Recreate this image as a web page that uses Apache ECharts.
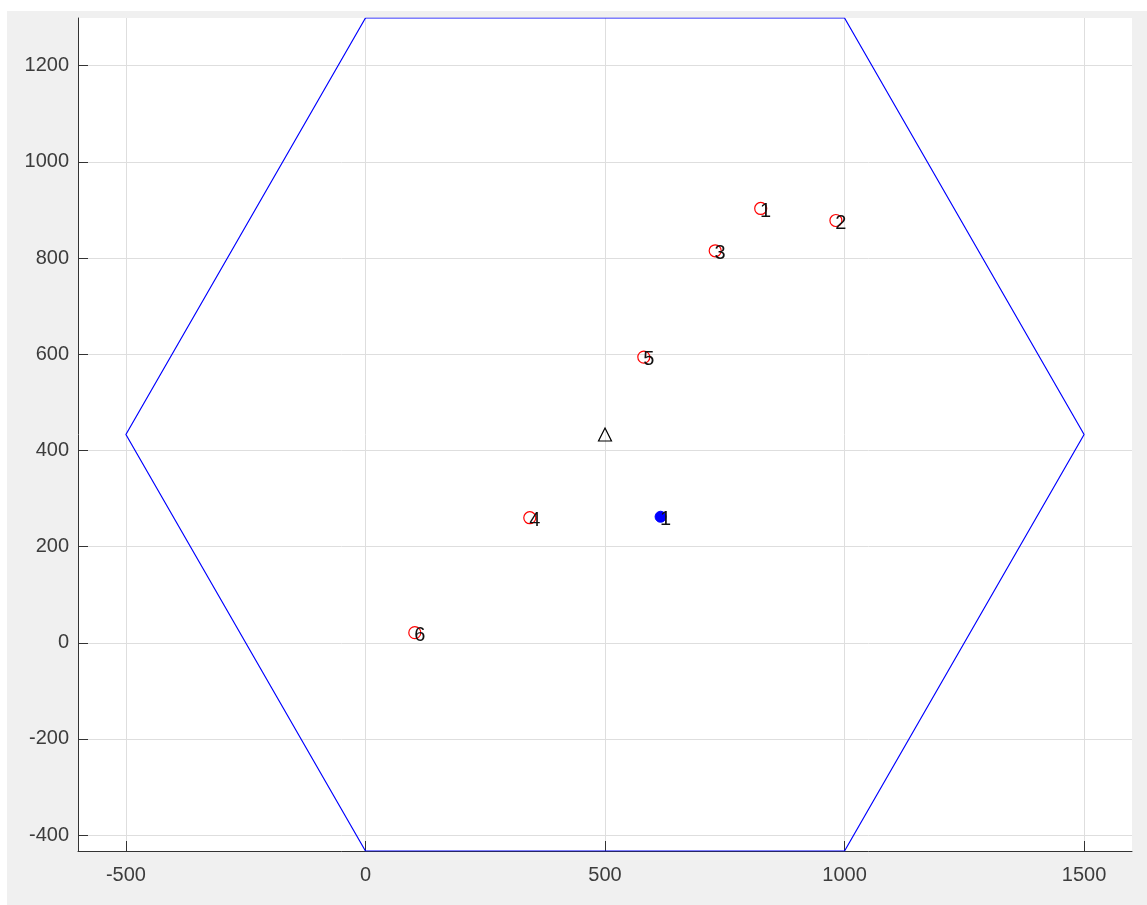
<!DOCTYPE html>
<html>
<head>
<meta charset="utf-8">
<script src="https://cdn.jsdelivr.net/npm/echarts@6/dist/echarts.min.js"></script>
<style>
  html, body { margin: 0; padding: 0; background: #ffffff; }
  #frame { position: absolute; left: 7px; top: 11px; width: 1140px; height: 894px; background: #f0f0f0; }
  #chart { position: absolute; left: 0; top: 0; width: 1147px; height: 905px; }
</style>
</head>
<body>
<div id="frame"></div>
<div id="chart"></div>
<script>
// Hexagon boundary (closed)
const hexX = [0, 1000, 1500, 1000, 0, -500, 0];
const hexY = [1299.04, 1299.04, 433.01, -433.01, -433.01, 433.01, 1299.04];

// Red circle points with their labels
const redX = [825, 982, 730, 343, 581, 103];
const redY = [903, 878, 815, 260, 594, 21];
const redLabels = ['1', '2', '3', '4', '5', '6'];

// Blue filled point
const blueX = [616];
const blueY = [262];
const blueLabels = ['1'];

// Triangle (centre)
const triX = [500];
const triY = [433.01];

// Axis ranges and ticks
const xMin = -600, xMax = 1600;
const yMin = -433.01, yMax = 1299.04;
const xTicks = [-500, 0, 500, 1000, 1500];
const yTicks = [-400, -200, 0, 200, 400, 600, 800, 1000, 1200];

const FONT = "'Liberation Sans', Arial, Helvetica, sans-serif";

const chart = echarts.init(document.getElementById('chart'), null, { renderer: 'canvas' });

function pts(xs, ys, names) {
  return xs.map((x, i) => names ? { name: names[i], value: [x, ys[i]] } : [x, ys[i]]);
}

const labelStyle = {
  show: true,
  formatter: '{b}',
  position: [6, 9.5],
  align: 'left',
  verticalAlign: 'middle',
  color: '#111111',
  fontFamily: FONT,
  fontSize: 20
};

const axisLineStyle = { show: true, onZero: false, lineStyle: { color: '#333333', width: 1 } };
const tickStyle = { show: true, inside: true, length: 10, lineStyle: { color: '#333333', width: 1 } };
const splitStyle = { show: true, lineStyle: { color: '#dedede', width: 1 } };
const fmt = v => String(v);

chart.setOption({
  animation: false,
  backgroundColor: 'transparent',
  grid: {
    left: 78, top: 18, right: 15, bottom: 54,
    show: true, backgroundColor: '#ffffff', borderWidth: 0
  },
  xAxis: {
    type: 'value', min: xMin, max: xMax,
    axisLine: axisLineStyle,
    axisTick: Object.assign({}, tickStyle, { customValues: xTicks }),
    splitLine: splitStyle,
    axisLabel: { customValues: xTicks, formatter: fmt, color: '#3c3c3c', fontFamily: FONT, fontSize: 20, margin: 14 }
  },
  yAxis: {
    type: 'value', min: yMin, max: yMax,
    axisLine: axisLineStyle,
    axisTick: Object.assign({}, tickStyle, { customValues: yTicks }),
    splitLine: splitStyle,
    axisLabel: { customValues: yTicks, formatter: fmt, color: '#3c3c3c', fontFamily: FONT, fontSize: 20, margin: 9 }
  },
  series: [
    {
      type: 'line',
      data: pts(hexX, hexY),
      showSymbol: false,
      symbol: 'none',
      lineStyle: { color: '#0000ff', width: 1.2 },
      silent: true,
      z: 2
    },
    {
      type: 'scatter',
      data: pts(redX, redY, redLabels),
      symbol: 'circle',
      symbolSize: 12,
      itemStyle: { color: 'rgba(0,0,0,0)', borderColor: '#ff0000', borderWidth: 1.2, opacity: 1 },
      label: labelStyle,
      z: 3
    },
    {
      type: 'scatter',
      data: pts(blueX, blueY, blueLabels),
      symbol: 'circle',
      symbolSize: 11,
      itemStyle: { color: '#0000ff', borderColor: '#0000ff', borderWidth: 1, opacity: 1 },
      label: Object.assign({}, labelStyle, { position: [5.5, 9] }),
      z: 3
    },
    {
      type: 'scatter',
      data: pts(triX, triY),
      symbol: 'triangle',
      symbolSize: 13,
      itemStyle: { color: 'rgba(0,0,0,0)', borderColor: '#000000', borderWidth: 1.2, opacity: 1 },
      z: 3
    }
  ]
});
</script>
</body>
</html>
